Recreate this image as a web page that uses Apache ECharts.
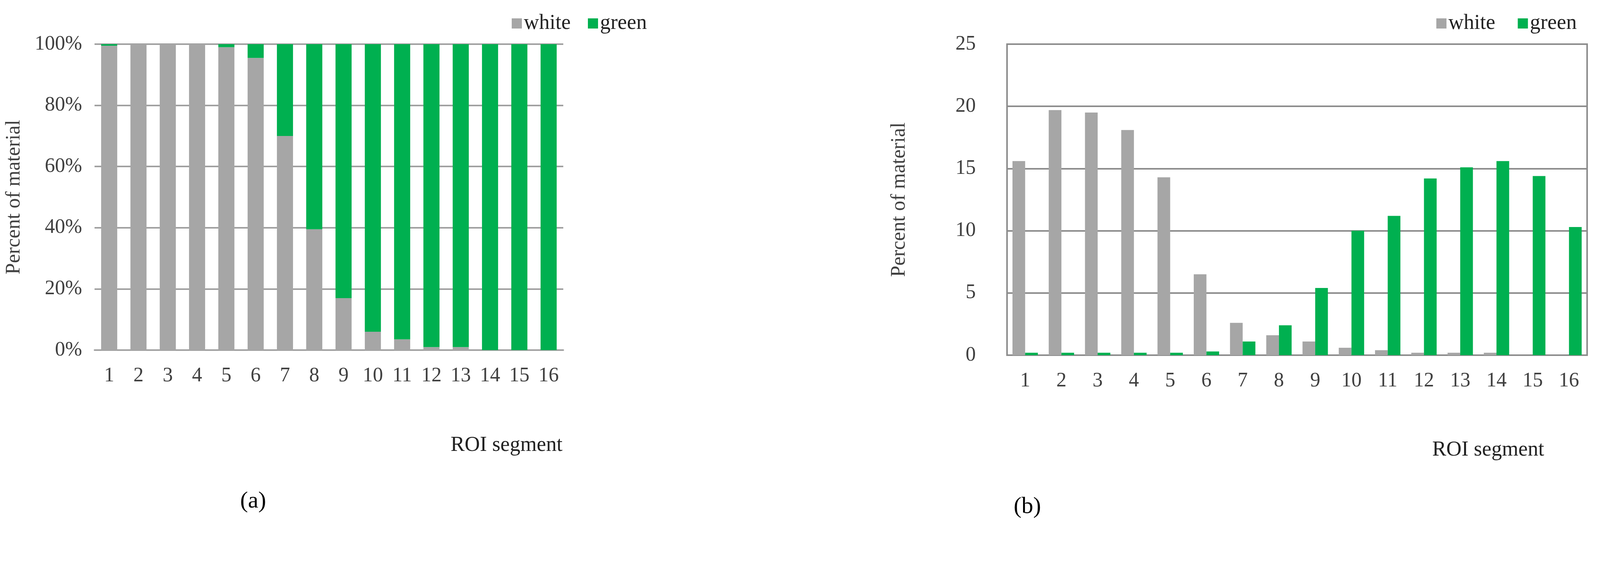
<!DOCTYPE html>
<html>
<head>
<meta charset="utf-8">
<script src="https://cdn.jsdelivr.net/npm/echarts@6/dist/echarts.min.js"></script>
<style>
  html, body { margin: 0; padding: 0; background: #fff; }
  #chart { width: 4275px; height: 1446px; }
</style>
</head>
<body>
<div id="chart"></div>
<script>
// ROI segments 1..16
let segments = ['1', '2', '3', '4', '5', '6', '7', '8', '9', '10', '11', '12', '13', '14', '15', '16']
// (a) share of each material per segment, %
let whiteShare = [99.5, 100, 100, 100, 99, 95.5, 70, 39.5, 17, 6, 3.5, 1, 1, 0, 0, 0]
let greenShare = [0.5, 0, 0, 0, 1, 4.5, 30, 60.5, 83, 94, 96.5, 99, 99, 100, 100, 100]
// (b) percent of material per segment
let whitePct = [15.6, 19.7, 19.5, 18.1, 14.3, 6.5, 2.6, 1.6, 1.1, 0.6, 0.4, 0.2, 0.2, 0.2, 0, 0]
let greenPct = [0.2, 0.2, 0.2, 0.2, 0.2, 0.3, 1.1, 2.4, 5.4, 10, 11.2, 14.2, 15.1, 15.6, 14.4, 10.3]

const GRAY = '#a6a6a6'
const GREEN = '#00b050'
const FONT = 'Liberation Serif'
const TXT = '#404040'

var chart = echarts.init(document.getElementById('chart'))

let axisText = { fontFamily: FONT, fontSize: 52, color: TXT }
let legendText = { fontFamily: FONT, fontSize: 54, color: '#222' }

chart.setOption({
  animation: false,
  textStyle: { fontFamily: FONT },
  legend: [
    {
      left: 1305, top: 28,
      itemWidth: 26, itemHeight: 26, itemGap: 44,
      textStyle: legendText,
      data: [{ name: 'white', icon: 'rect' }, { name: 'green', icon: 'rect' }]
    },
    {
      left: 3672, top: 28,
      itemWidth: 26, itemHeight: 26, itemGap: 44,
      textStyle: legendText,
      data: [{ name: 'white ', icon: 'rect' }, { name: 'green ', icon: 'rect' }]
    }
  ],
  title: [
    { text: '(a)', left: 643, top: 1248, textAlign: 'center',
      textStyle: { fontFamily: FONT, fontSize: 60, fontWeight: 'normal', color: '#000' } },
    { text: '(b)', left: 2625, top: 1262, textAlign: 'center',
      textStyle: { fontFamily: FONT, fontSize: 60, fontWeight: 'normal', color: '#000' } },
    { text: 'ROI segment', right: 4275 - 1445, top: 1108,
      textStyle: { fontFamily: FONT, fontSize: 54, fontWeight: 'normal', color: '#222' } },
    { text: 'ROI segment', right: 4275 - 3958, top: 1120,
      textStyle: { fontFamily: FONT, fontSize: 54, fontWeight: 'normal', color: '#222' } }
  ],
  grid: [
    { left: 242, top: 113, width: 1200, height: 783 },
    { left: 2578, top: 113, width: 1485, height: 796, show: true,
      borderColor: '#8c8c8c', borderWidth: 4, backgroundColor: 'transparent' }
  ],
  xAxis: [
    {
      gridIndex: 0, type: 'category', data: segments,
      axisLine: { lineStyle: { color: '#a0a0a0', width: 4 } },
      axisTick: { show: false },
      axisLabel: Object.assign({ margin: 40 }, axisText)
    },
    {
      gridIndex: 1, type: 'category', data: segments,
      axisLine: { lineStyle: { color: '#8c8c8c', width: 4 } },
      axisTick: { show: false },
      axisLabel: Object.assign({ margin: 40 }, axisText)
    }
  ],
  yAxis: [
    {
      gridIndex: 0, type: 'value', min: 0, max: 100, interval: 20,
      name: 'Percent of material', nameLocation: 'middle', nameGap: 180,
      nameTextStyle: { fontFamily: FONT, fontSize: 52, color: TXT },
      axisLine: { show: false }, axisTick: { show: false },
      axisLabel: Object.assign({ margin: 32, formatter: '{value}%' }, axisText),
      splitLine: { lineStyle: { color: '#a0a0a0', width: 4 } }
    },
    {
      gridIndex: 1, type: 'value', min: 0, max: 25, interval: 5,
      name: 'Percent of material', nameLocation: 'middle', nameGap: 250,
      nameTextStyle: { fontFamily: FONT, fontSize: 52, color: TXT },
      axisLine: { show: false }, axisTick: { show: false },
      axisLabel: Object.assign({ margin: 80 }, axisText),
      splitLine: { lineStyle: { color: '#8c8c8c', width: 4 } }
    }
  ],
  series: [
    { name: 'white', type: 'bar', stack: 'a', xAxisIndex: 0, yAxisIndex: 0,
      data: whiteShare, barWidth: '55%', itemStyle: { color: GRAY } },
    { name: 'green', type: 'bar', stack: 'a', xAxisIndex: 0, yAxisIndex: 0,
      data: greenShare, barWidth: '55%', itemStyle: { color: GREEN } },
    { name: 'white ', type: 'bar', xAxisIndex: 1, yAxisIndex: 1,
      data: whitePct, barGap: '0%', barCategoryGap: '30%', itemStyle: { color: GRAY } },
    { name: 'green ', type: 'bar', xAxisIndex: 1, yAxisIndex: 1,
      data: greenPct, barGap: '0%', barCategoryGap: '30%', itemStyle: { color: GREEN } }
  ]
})
</script>
</body>
</html>
